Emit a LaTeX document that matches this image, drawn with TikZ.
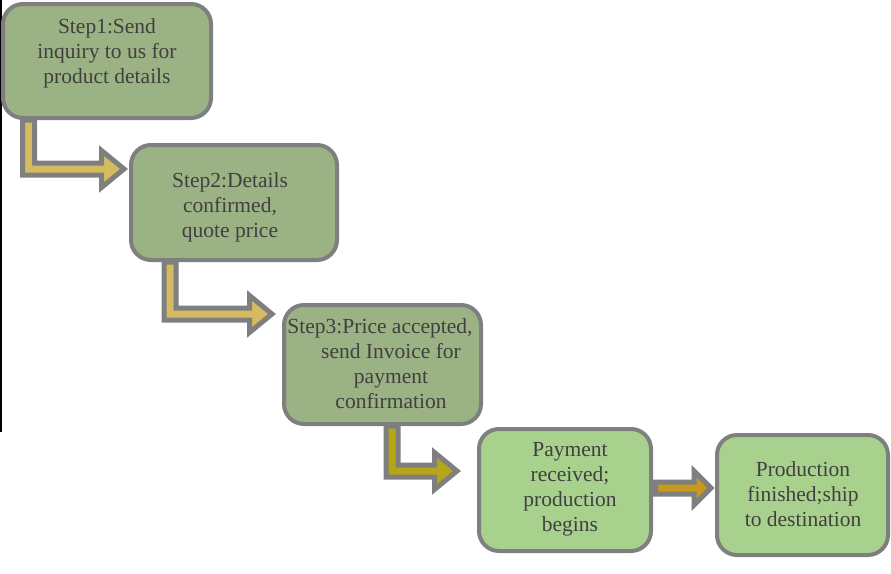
\documentclass[tikz,border=0pt]{standalone}
\usepackage{fontspec}
\setmainfont{Liberation Serif}
\newfontfamily\stepfont{Liberation Serif}
\usepackage{tikz}
\usetikzlibrary{calc,positioning}

\definecolor{boxgray}{HTML}{7F7F7F}
\definecolor{stepgreen}{HTML}{9BB284}
\definecolor{paygreen}{HTML}{A9D18E}
\definecolor{textgray}{HTML}{404040}
\definecolor{sand}{HTML}{D5BB60}
\definecolor{olive}{HTML}{B7A518}
\definecolor{gold}{HTML}{C9991E}

% elbow block arrow: down from #1, then right to the tip #2
\newcommand{\elbowarrow}[3]{%
  \draw[blockarrow, fill=#3] let \p1=#1, \p2=#2 in
    (\x1-6pt,\y1) -- (\x1-6pt,\y2-6pt) -- (\x2-22.5pt,\y2-6pt) -- (\x2-22.5pt,\y2-18.5pt)
    -- (\x2,\y2) -- (\x2-22.5pt,\y2+18.5pt) -- (\x2-22.5pt,\y2+6pt) -- (\x1+6pt,\y2+6pt)
    -- (\x1+6pt,\y1) -- cycle;}

\begin{document}
\begin{tikzpicture}[
x=1pt, y=-1pt,
stepbox/.style={draw=boxgray, line width=4, rounded corners=20, fill=stepgreen, inner sep=0},
paybox/.style={stepbox, fill=paygreen},
steptext/.style={font=\stepfont\fontsize{21.5}{25}\selectfont, text=textgray, align=center, inner sep=0},
blockarrow/.style={draw=boxgray, line width=5, line join=miter, miter limit=10}
]
    \useasboundingbox (0,0) rectangle (891,573);

    % left edge line
    \draw[black, line width=1.5] (0.75,0) -- (0.75,432);

    % Draw boxes
    \node[stepbox, minimum width=208, minimum height=114] (s1) at (107,61) {};
    \node[stepbox, minimum width=206, minimum height=115] (s2) at (234,202.5) {};
    \node[stepbox, minimum width=197, minimum height=119] (s3) at (382.5,364.5) {};
    \node[paybox, minimum width=172, minimum height=122] (s4) at (565,490) {};
    \node[paybox, minimum width=171, minimum height=120] (s5) at (802.5,495) {};

    % texts
    \node[steptext] (t1) at (107,53) {Step1:Send\\inquiry to us for\\product details};
    \node[steptext] (t2) at (230,207) {Step2:Details\\confirmed,\\quote price};
    \node[steptext] (t3) at (391,364) {Step3:Price accepted,\hspace*{22pt}\\send Invoice for\\payment\\confirmation};
    \node[steptext] (t4) at (570,489) {Payment\\received;\\production\\begins};
    \node[steptext] (t5) at (803,494) {Production\\finished;ship\\to destination};

    % arrows
    \elbowarrow{([xshift=27.5]s1.south west)}{([xshift=-5,yshift=-26]s2.north west)}{sand}
    \elbowarrow{([xshift=41]s2.south west)}{([xshift=-10,yshift=-11]s3.north west)}{sand}
    \elbowarrow{([xshift=110]s3.south west)}{([xshift=-20,yshift=-44]s4.north west)}{olive}

    \draw[blockarrow, fill=gold] let \p1=([xshift=2.5,yshift=2]s4.east), \p2=(s5.west) in
        (\x1,\y1+6pt) -- (\x2-21pt,\y1+6pt) -- (\x2-21pt,\y1+17pt) -- (\x2-4pt,\y1)
        -- (\x2-21pt,\y1-17pt) -- (\x2-21pt,\y1-6pt) -- (\x1,\y1-6pt) -- cycle;

\end{tikzpicture}
\end{document}
